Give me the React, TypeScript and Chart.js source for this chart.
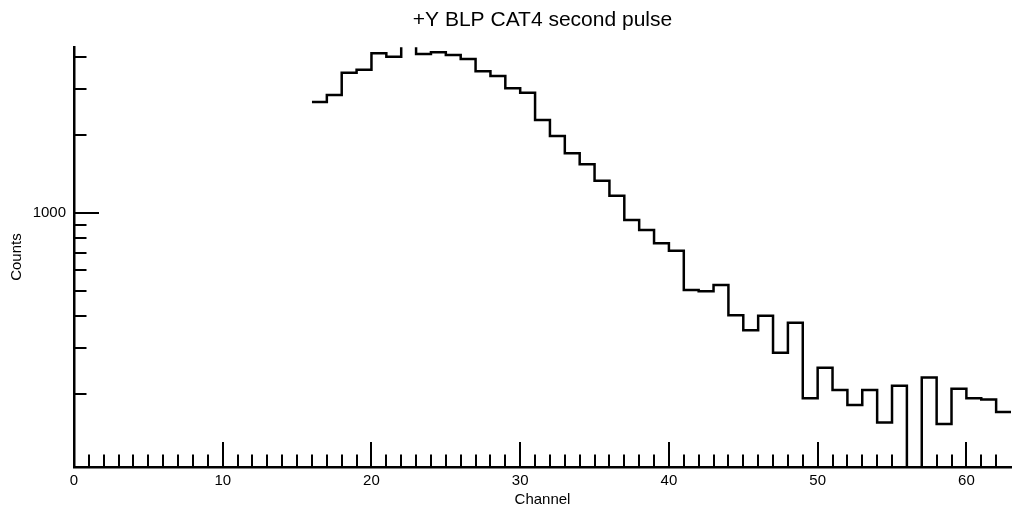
import React, { useEffect, useRef } from 'react';
import { Chart, registerables } from 'chart.js';

Chart.register(...registerables);

const TITLE = '+Y BLP CAT4 second pulse';
const X_LABEL = 'Channel';
const Y_LABEL = 'Counts';

// bin start channels (each bin is one channel wide)
const channels = [
  16, 17, 18, 19, 20, 21, 22, 23, 24, 25, 26, 27, 28, 29, 30, 31,
  32, 33, 34, 35, 36, 37, 38, 39, 40, 41, 42, 43, 44, 45, 46, 47,
  48, 49, 50, 51, 52, 53, 54, 55, 56, 57, 58, 59, 60, 61, 62,
];
const lastEdge = 63;

// counts per bin
const counts = [
  2676, 2848, 3471, 3566, 4125, 4003, 5200, 4100, 4163, 4064, 3922, 3515, 3371, 3022, 2906, 2280,
  1978, 1696, 1538, 1329, 1163, 937, 857, 762, 713, 503, 498, 526, 402, 352, 400, 288,
  376, 192, 252, 207, 181, 207, 155, 215, 60, 231, 153, 209, 192, 190, 170,
];

const xRange = [0, 63];
const yRange = [104.3, 4355];
const xTickLabels = [0, 10, 20, 30, 40, 50, 60];
const yTickLabels = [1000];
const yMinorTicks = [200, 300, 400, 500, 600, 700, 800, 900, 2000, 3000, 4000];

const tickMarks = {
  id: 'tickMarks',
  afterDraw(chart: any) {
    const { ctx, chartArea, scales } = chart;
    const xs = scales.x;
    const ys = scales.y;
    ctx.save();
    ctx.strokeStyle = '#000';
    ctx.lineWidth = 2;
    ctx.lineCap = 'butt';
    ctx.beginPath();
    for (let c = xRange[0] + 1; c < xRange[1]; c++) {
      const px = Math.round(xs.getPixelForValue(c));
      const len = xTickLabels.includes(c) ? 25 : 12.5;
      ctx.moveTo(px, chartArea.bottom);
      ctx.lineTo(px, chartArea.bottom - len);
    }
    const yAll = [...yMinorTicks, ...yTickLabels];
    for (const v of yAll) {
      const py = Math.round(ys.getPixelForValue(v));
      const len = yTickLabels.includes(v) ? 25 : 12.5;
      ctx.moveTo(chartArea.left, py);
      ctx.lineTo(chartArea.left + len, py);
    }
    ctx.stroke();
    ctx.restore();
  },
};

export default function App() {
  const ref = useRef<HTMLCanvasElement>(null);

  useEffect(() => {
    const font = "'Liberation Sans', Arial, Helvetica, sans-serif";
    Chart.defaults.font.family = font;
    Chart.defaults.color = '#000';

    const points = channels.map((c, i) => ({ x: c, y: counts[i] }));
    points.push({ x: lastEdge, y: counts[counts.length - 1] });

    const chart = new Chart(ref.current as HTMLCanvasElement, {
      type: 'line',
      data: {
        datasets: [
          {
            data: points,
            borderColor: '#000',
            borderWidth: 2.5,
            pointRadius: 0,
            stepped: true,
            fill: false,
            tension: 0,
          },
        ],
      },
      options: {
        animation: false,
        responsive: false,
        devicePixelRatio: 1,
        layout: { padding: { top: 0, right: 3, bottom: 0, left: 0 } },
        plugins: {
          legend: { display: false },
          tooltip: { enabled: false },
          title: {
            display: true,
            text: TITLE,
            fullSize: false,
            color: '#000',
            font: { size: 21, weight: 'normal', family: font },
            padding: { top: 8, bottom: 14 },
          },
        },
        scales: {
          x: {
            type: 'linear',
            min: xRange[0],
            max: xRange[1],
            grid: { display: false, drawTicks: false, tickLength: 0 },
            border: { display: true, color: '#000', width: 2.5 },
            afterBuildTicks: (s: any) => {
              s.ticks = xTickLabels.map((v) => ({ value: v }));
            },
            afterFit: (s: any) => {
              s.height = 48;
            },
            ticks: {
              color: '#000',
              padding: 5,
              maxRotation: 0,
              autoSkip: false,
              font: { size: 15 },
              callback: (v: any) => String(v),
            },
            title: {
              display: true,
              text: X_LABEL,
              color: '#000',
              font: { size: 15 },
              padding: { top: 0, bottom: 6 },
            },
          },
          y: {
            type: 'logarithmic',
            min: yRange[0],
            max: yRange[1],
            grid: { display: false, drawTicks: false, tickLength: 0 },
            border: { display: true, color: '#000', width: 2.5 },
            afterBuildTicks: (s: any) => {
              s.ticks = [...yMinorTicks, ...yTickLabels]
                .sort((a, b) => a - b)
                .map((v) => ({ value: v }));
            },
            afterFit: (s: any) => {
              s.width = 74;
            },
            ticks: {
              color: '#000',
              padding: 8,
              autoSkip: false,
              font: { size: 15 },
              callback: (v: any) => (yTickLabels.includes(Number(v)) ? String(v) : ''),
            },
            title: {
              display: true,
              text: Y_LABEL,
              color: '#000',
              font: { size: 15 },
              padding: { top: 8, bottom: 0 },
            },
          },
        },
      },
      plugins: [tickMarks],
    } as any);

    return () => chart.destroy();
  }, []);

  return (
    <div style={{ position: 'absolute', left: 0, top: 0, width: 1014, height: 515, background: '#fff' }}>
      <canvas ref={ref} width={1014} height={515} style={{ display: 'block' }} />
    </div>
  );
}
